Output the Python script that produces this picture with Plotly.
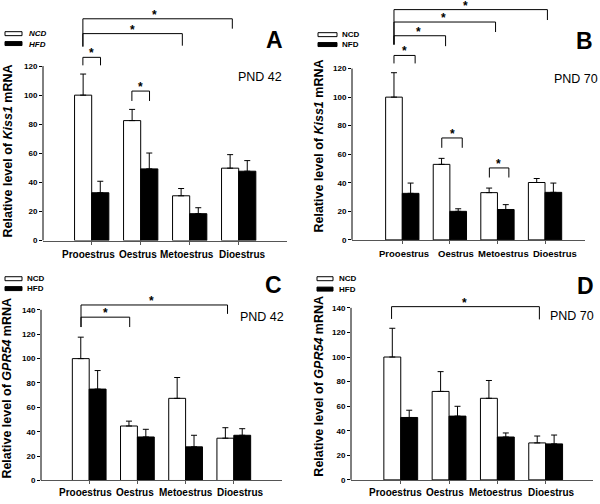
import plotly.graph_objects as go

W, H = 600, 504
FONT = "Liberation Sans, Arial, sans-serif"

stages = ["Prooestrus", "Oestrus", "Metoestrus", "Dioestrus"]
tick_vals_kiss = [0, 20, 40, 60, 80, 100, 120]
tick_vals_gpr = [0, 20, 40, 60, 80, 100, 120, 140]

# Panel A: Kiss1, PND 42
a_ncd = [100, 82.5, 30.8, 49.8]
a_ncd_err = [14.5, 7.7, 5.0, 9.3]
a_hfd = [32.9, 49.3, 18.5, 47.7]
a_hfd_err = [7.9, 10.9, 4.1, 7.3]

# Panel B: Kiss1, PND 70
b_ncd = [100, 52.9, 33.1, 40.2]
b_ncd_err = [17.1, 4.2, 3.2, 2.8]
b_hfd = [32.6, 20.0, 21.3, 33.3]
b_hfd_err = [7.2, 1.8, 3.4, 6.5]

# Panel C: GPR54, PND 42
c_ncd = [100, 44.7, 67.4, 34.7]
c_ncd_err = [17.6, 4.0, 17.1, 8.6]
c_hfd = [75.0, 35.7, 27.6, 37.1]
c_hfd_err = [15.2, 6.3, 9.5, 5.4]

# Panel D: GPR54, PND 70
d_ncd = [100, 72.0, 66.4, 30.1]
d_ncd_err = [23.4, 16.1, 14.5, 5.6]
d_hfd = [50.8, 51.9, 34.9, 29.3]
d_hfd_err = [5.9, 8.0, 3.3, 7.2]

# significance brackets: (x_left, x_right, y_top, y_left_end, y_right_end, x_star)
a_brackets = [(-0.18, 0.18, 126, 120.5, 120.5, 0.0),
              (0.82, 1.18, 102.8, 96, 96, 1.0),
              (-0.18, 1.85, 142.3, 133.4, 134, 0.83),
              (-0.18, 2.87, 152.5, 133.4, 145.7, 1.29)]
b_brackets = [(-0.175, 0.27, 129.2, 123.6, 123.6, 0.05),
              (0.83, 1.26, 71.4, 64.5, 64.5, 1.05),
              (1.83, 2.24, 50.4, 43.7, 43.7, 2.03),
              (-0.175, 0.91, 143, 136.8, 135.7, 0.35),
              (-0.175, 1.96, 152.6, 136.8, 145.6, 0.87),
              (-0.175, 3.05, 161.3, 136.8, 154, 1.33)]
c_brackets = [(-0.17, 0.84, 134, 125.9, 125.9, 0.34),
              (-0.17, 2.87, 144, 125.9, 136.7, 1.29)]
d_brackets = [(-0.19, 2.87, 141, 131, 130.6, 1.31)]

panels = [
    dict(ncd=a_ncd, ncd_err=a_ncd_err, hfd=a_hfd, hfd_err=a_hfd_err, br=a_brackets,
         ticks=tick_vals_kiss, gene="Kiss1", pnd="PND 42", letter="A",
         leg=("NCD", "HFD"), leg_italic=True,
         px=(43, 287), y0=243, scale=1.469, top=3, xr=(-0.994, 3.986),
         lab_x=(-0.075, 0.955, 1.95, 3.07), lab_y=257, lab_size=10,
         title_xy=(7.5, 152.5), letter_xy=(274, 40), pnd_xy=(260, 78),
         leg_box=(5, 22, 32, 42), leg_text=(27, 34, 44.5)),
    dict(ncd=b_ncd, ncd_err=b_ncd_err, hfd=b_hfd, hfd_err=b_hfd_err, br=b_brackets,
         ticks=tick_vals_kiss, gene="Kiss1", pnd="PND 70", letter="B",
         leg=("NCD", "NFD"), leg_italic=False,
         px=(352, 585), y0=242.3, scale=1.442, top=3, xr=(-1.057, 3.84),
         lab_x=(0.03, 1.12, 2.12, 3.2), lab_y=256, lab_size=9.5,
         title_xy=(319.5, 147.5), letter_xy=(584, 41), pnd_xy=(576, 80),
         leg_box=(318, 337, 33, 43), leg_text=(340, 35, 45)),
    dict(ncd=c_ncd, ncd_err=c_ncd_err, hfd=c_hfd, hfd_err=c_hfd_err, br=c_brackets,
         ticks=tick_vals_gpr, gene="GPR54", pnd="PND 42", letter="C",
         leg=("NCD", "HFD"), leg_italic=False,
         px=(41, 282), y0=485.3, scale=1.231, top=258, xr=(-1.0, 4.0),
         lab_x=(-0.08, 0.95, 2.0, 3.13), lab_y=497.5, lab_size=10,
         title_xy=(7.5, 392), letter_xy=(273, 288), pnd_xy=(262, 320),
         leg_box=(5, 22, 279.5, 289.5), leg_text=(25, 281.5, 291.5)),
    dict(ncd=d_ncd, ncd_err=d_ncd_err, hfd=d_hfd, hfd_err=d_hfd_err, br=d_brackets,
         ticks=tick_vals_gpr, gene="GPR54", pnd="PND 70", letter="D",
         leg=("NCD", "HFD"), leg_italic=False,
         px=(351, 593), y0=484.7, scale=1.241, top=258, xr=(-1.03, 3.98),
         lab_x=(-0.1, 0.91, 1.98, 3.13), lab_y=497.5, lab_size=10,
         title_xy=(319, 390.5), letter_xy=(585, 289), pnd_xy=(572, 319),
         leg_box=(317, 333, 279.5, 290), leg_text=(337, 281.5, 292)),
]


def pxx(v):
    return v / W


def pxy(v):
    return 1 - v / H


fig = go.Figure()
shapes = []
annotations = []
layout = {}

for i, p in enumerate(panels):
    n = "" if i == 0 else str(i + 1)
    xa, ya = "x" + n, "y" + n
    ymax = (p["y0"] - p["top"]) / p["scale"]
    for vals, errs, fill in ((p["ncd"], p["ncd_err"], "white"), (p["hfd"], p["hfd_err"], "black")):
        fig.add_trace(go.Bar(
            x=stages, y=vals, xaxis=xa, yaxis=ya, showlegend=False,
            marker=dict(color=fill, line=dict(color="black", width=1)),
            error_y=dict(type="data", symmetric=False, array=errs, arrayminus=[0] * len(errs),
                         color="black", thickness=1, width=3),
        ))
    layout["xaxis" + n] = dict(
        domain=[pxx(p["px"][0]), pxx(p["px"][1])], anchor=ya, range=list(p["xr"]),
        showline=True, linecolor="#555555", linewidth=1, ticks="outside", ticklen=3,
        tickcolor="#555555", showgrid=False, zeroline=False, showticklabels=False,
    )
    layout["yaxis" + n] = dict(
        domain=[pxy(p["y0"]), pxy(p["top"])], anchor=xa, range=[0, ymax],
        showline=False, ticks="outside", ticklen=3, tickcolor="black",
        tickvals=p["ticks"], showgrid=False, zeroline=False,
        tickfont=dict(family=FONT, size=8, color="black", weight="bold"),
    )
    # category labels below the x axis
    for label, lx in zip(stages, p["lab_x"]):
        annotations.append(dict(
            text=label, x=lx, y=pxy(p["lab_y"]), xref=xa, yref="paper",
            xanchor="center", yanchor="middle", showarrow=False,
            font=dict(family=FONT, size=p["lab_size"], color="black", weight="bold")))
    # y axis line up to the top tick
    shapes.append(dict(type="line", xref=xa + " domain", yref=ya, x0=0, x1=0,
                       y0=0, y1=p["ticks"][-1], line=dict(color="black", width=1)))
    # significance brackets
    for (xl, xr_, yt, yl, yr, xs) in p["br"]:
        for seg in ((xl, yl, xl, yt), (xl, yt, xr_, yt), (xr_, yt, xr_, yr)):
            shapes.append(dict(type="line", xref=xa, yref=ya, x0=seg[0], y0=seg[1],
                               x1=seg[2], y1=seg[3], line=dict(color="black", width=1)))
        annotations.append(dict(text="<b>*</b>", x=xs, y=yt, xref=xa, yref=ya,
                                xanchor="center", yanchor="bottom", yshift=-4, showarrow=False,
                                borderpad=0,
                                font=dict(family=FONT, size=12, color="black")))
    # y axis title
    annotations.append(dict(
        text="Relative level of <i>%s</i> mRNA" % p["gene"], textangle=-90,
        x=pxx(p["title_xy"][0]), y=pxy(p["title_xy"][1]), xref="paper", yref="paper",
        xanchor="center", yanchor="middle", showarrow=False,
        font=dict(family=FONT, size=12.5, color="black", weight="bold")))
    # panel letter and PND label
    annotations.append(dict(
        text=p["letter"], x=pxx(p["letter_xy"][0]), y=pxy(p["letter_xy"][1]),
        xref="paper", yref="paper", xanchor="center", yanchor="middle", showarrow=False,
        font=dict(family=FONT, size=23, color="black", weight="bold")))
    annotations.append(dict(
        text=p["pnd"], x=pxx(p["pnd_xy"][0]), y=pxy(p["pnd_xy"][1]),
        xref="paper", yref="paper", xanchor="center", yanchor="middle", showarrow=False,
        font=dict(family=FONT, size=12.5, color="black")))
    # legend
    bx0, bx1, by_w, by_b = p["leg_box"]
    for by, fill in ((by_w, "white"), (by_b, "black")):
        shapes.append(dict(type="rect", xref="paper", yref="paper",
                           x0=pxx(bx0), x1=pxx(bx1), y0=pxy(by), y1=pxy(by + 4),
                           fillcolor=fill, line=dict(color="black", width=1)))
    tx, ty1, ty2 = p["leg_text"]
    for label, ty in zip(p["leg"], (ty1, ty2)):
        annotations.append(dict(
            text=("<i>%s</i>" % label) if p["leg_italic"] else label,
            x=pxx(tx), y=pxy(ty), xref="paper", yref="paper",
            xanchor="left", yanchor="middle", showarrow=False,
            font=dict(family=FONT, size=8, color="black", weight="bold")))

fig.update_layout(
    width=W, height=H, margin=dict(l=0, r=0, t=0, b=0),
    paper_bgcolor="white", plot_bgcolor="white",
    barmode="group", bargap=0.3, bargroupgap=0,
    shapes=shapes, annotations=annotations, showlegend=False,
    font=dict(family=FONT, color="black"),
    **layout,
)

fig.write_html("out.html", config={"displayModeBar": False},
               post_script="document.body.style.margin='0';document.body.style.overflow='hidden';")
